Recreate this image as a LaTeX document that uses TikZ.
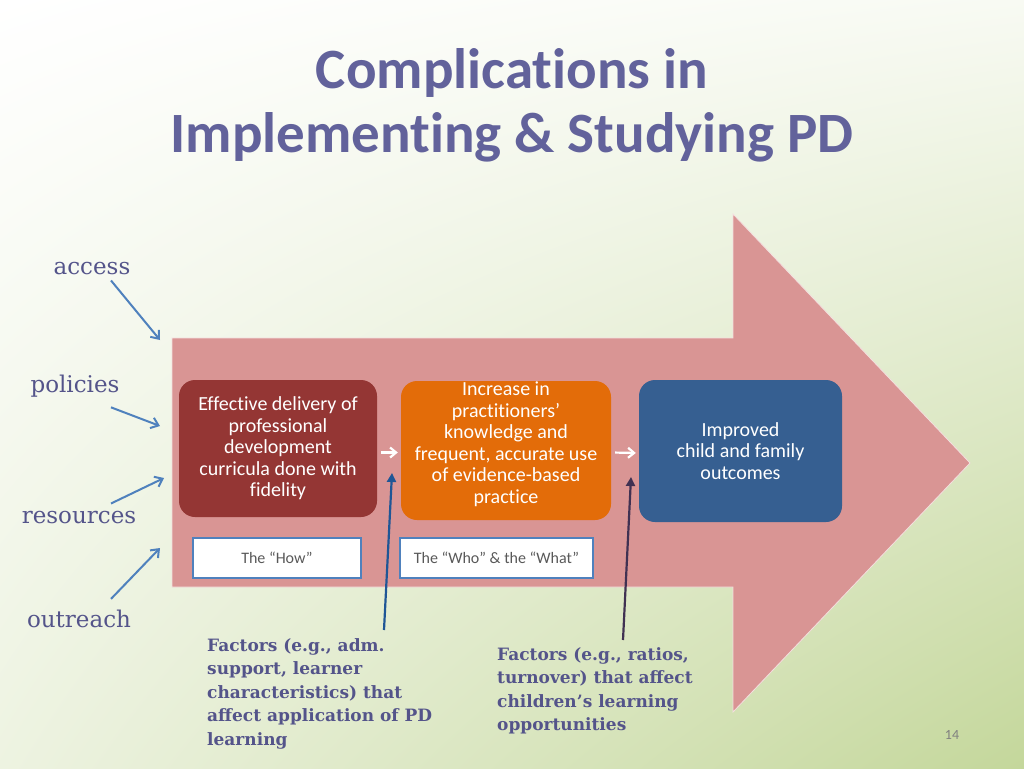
\documentclass[tikz,border=0pt]{standalone}
\usepackage{fontspec}
\setmainfont[Ligatures=NoCommon]{Carlito}
\newfontfamily\slabfont{DejaVu Serif}
\usetikzlibrary{arrows.meta,positioning,shadings}

\definecolor{titlepurple}{RGB}{98,98,155}
\definecolor{labelpurple}{RGB}{84,84,138}
\definecolor{arrowpink}{RGB}{217,149,148}
\definecolor{boxred}{RGB}{148,54,52}
\definecolor{boxorange}{RGB}{227,108,9}
\definecolor{boxblue}{RGB}{54,95,145}
\definecolor{tagblue}{RGB}{79,129,189}
\definecolor{pointblue}{RGB}{31,86,150}
\definecolor{pointpurple}{RGB}{64,49,82}
\definecolor{bggreen}{RGB}{196,215,155}

\begin{document}
\begin{tikzpicture}[
  x=1pt, y=-1pt,
  title/.style={text=titlepurple, font=\fontsize{57}{62}\selectfont\bfseries},
  stage/.style={rounded corners=16pt, text=white, align=center, inner sep=0pt,
    font=\fontsize{20}{21.5}\selectfont},
  tag/.style={draw=tagblue, line width=1.5pt, fill=white, text=black!65,
    minimum height=40pt, inner sep=0pt, font=\fontsize{16}{19}\selectfont},
  source/.style={text=labelpurple, inner sep=2pt, font=\slabfont\fontsize{23}{27}\selectfont},
  factor/.style={text=labelpurple, align=left, anchor=north west, inner sep=0pt,
    font=\slabfont\bfseries\fontsize{17}{23.5}\selectfont},
  inarrow/.style={draw=tagblue, line width=2pt, -{Straight Barb[length=7pt,width=11pt]}},
  step arrow/.style={draw=white, line width=2.2pt, -{Straight Barb[length=6pt,width=10pt]}},
  pointer/.style={line width=2.2pt, -{Triangle[length=9pt,width=9pt]}}
]
\useasboundingbox (0,0) rectangle (1024,768);
% background
\shade[upper left=white, upper right=bggreen!12, lower left=bggreen!30, lower right=bggreen]
  (0,0) rectangle (1024,768);

% title
\node[title] (title1) at (512,73) {Complications in};
\node[title] (title2) at (512,137) {Implementing \& Studying PD};

% big arrow
\fill[arrowpink, draw=white!70!arrowpink, line width=0.8pt]
  (172,338) -- (733,338) -- (733,214) -- (970,463) -- (733,712) -- (733,587) -- (172,587) -- cycle;

% stages
\node[stage, fill=boxred, minimum width=198pt, minimum height=137pt] (delivery) at (278,448.5)
  {Effective delivery of\\professional\\development\\curricula done with\\fidelity};
\node[stage, fill=boxorange, minimum width=210pt, minimum height=139pt] (knowledge) at (506,450.5)
  {Increase in\\practitioners’\\knowledge and\\frequent, accurate use\\of evidence-based\\practice\\[-5.5pt]};
\node[stage, fill=boxblue, minimum width=203pt, minimum height=142pt] (outcomes) at (740.5,451)
  {Improved\\child and family\\outcomes};

\draw[step arrow, shorten <=4pt, shorten >=3pt] ([yshift=-4pt]delivery.east) -- ([yshift=-2pt]knowledge.west);
\draw[step arrow, shorten <=4pt, shorten >=3pt] ([yshift=-2pt]knowledge.east) -- ([yshift=-2pt]outcomes.west);

% tags
\node[tag, minimum width=168pt] (how) at (277,558) {The “How”};
\node[tag, minimum width=193pt] (whowhat) at (496.5,558) {The “Who” \& the “What”};

% sources on the left
\node[source] (access) at (92,269) {access};
\node[source] (policies) at (75,386) {policies};
\node[source] (resources) at (79,518) {resources};
\node[source] (outreach) at (79,619) {outreach};
\coordinate (accessIn) at (160,340);
\coordinate (policiesIn) at (160,426);
\coordinate (resourcesIn) at (164,478);
\coordinate (outreachIn) at (160,548);
\draw[inarrow] ([xshift=19pt,yshift=-3pt]access.south) -- (accessIn);
\draw[inarrow] ([xshift=36pt,yshift=-8pt]policies.south) -- (policiesIn);
\draw[inarrow] ([xshift=32pt,yshift=6pt]resources.north) -- (resourcesIn);
\draw[inarrow] ([xshift=32pt,yshift=9pt]outreach.north) -- (outreachIn);

% factors
\node[factor] (factorsPD) at (207,638)
  {Factors (e.g., adm.\\support, learner\\characteristics) that\\affect application of PD\\learning};
\node[factor] (factorsKids) at (497,647)
  {Factors (e.g., ratios,\\turnover) that affect\\children’s learning\\opportunities};
\coordinate (applGap) at (392,473);
\coordinate (useGap) at (631,477);
\draw[pointer, pointblue] ([xshift=384pt-207pt,yshift=8pt]factorsPD.north west) -- (applGap);
\draw[pointer, pointpurple] ([xshift=623pt-497pt,yshift=7pt]factorsKids.north west) -- (useGap);

% page number
\node[text=black!50, font=\fontsize{14}{16}\selectfont] (page) at (952,735) {14};
\end{tikzpicture}
\end{document}
